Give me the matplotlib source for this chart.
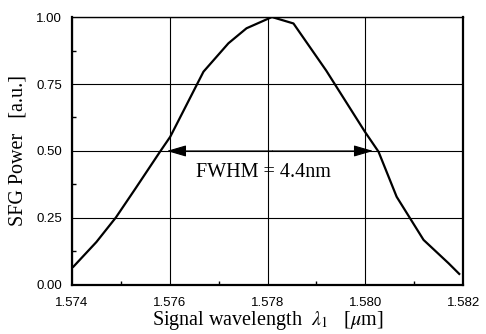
import numpy as np
import matplotlib.pyplot as plt
from matplotlib.ticker import MultipleLocator, FormatStrFormatter

plt.rcParams['mathtext.fontset'] = 'stix'

wavelength = [1.57403, 1.57450, 1.57490, 1.57530, 1.57580, 1.57601, 1.57669,
              1.57720, 1.57757, 1.57809, 1.57853, 1.57920, 1.57999, 1.58027,
              1.58064, 1.58119, 1.58170, 1.58192]
power = [0.068, 0.160, 0.252, 0.360, 0.497, 0.553, 0.796,
         0.902, 0.958, 1.0, 0.976, 0.80, 0.572, 0.497,
         0.329, 0.168, 0.081, 0.041]

# FWHM arrow ends
fwhm_left = 1.57594
fwhm_right = 1.58016
fwhm_text = "FWHM = 4.4nm"

xticks = [1.574, 1.576, 1.578, 1.580, 1.582]
yticks = [0.00, 0.25, 0.50, 0.75, 1.00]

fig = plt.figure(figsize=(4.86, 3.34), dpi=100)
ax = fig.add_axes([0.148, 0.147, 0.805, 0.802])

ax.plot(wavelength, power, color='black', linewidth=1.6, zorder=3)

ax.set_xlim(1.574, 1.582)
ax.set_ylim(0, 1.0)
ax.set_xticks(xticks)
ax.set_yticks(yticks)
ax.xaxis.set_major_formatter(FormatStrFormatter('%.3f'))
ax.yaxis.set_major_formatter(FormatStrFormatter('%.2f'))
ax.xaxis.set_minor_locator(MultipleLocator(0.001))
ax.yaxis.set_minor_locator(MultipleLocator(0.125))
ax.tick_params(which='major', length=0, labelsize=9.5)
ax.tick_params(axis='x', which='major', pad=9)
ax.tick_params(axis='y', which='major', pad=7)
ax.tick_params(which='minor', direction='in', length=3, width=1)
for lab in ax.get_xticklabels() + ax.get_yticklabels():
    lab.set_family('Liberation Sans')

ax.grid(True, which='major', color='black', linewidth=0.8)
for s in ['left', 'bottom', 'right']:
    ax.spines[s].set_linewidth(1.6)
ax.spines['top'].set_linewidth(1.0)

# FWHM arrows
for tip in (fwhm_left, fwhm_right):
    ax.annotate('', xy=(tip, 0.5), xytext=(1.5781, 0.5),
                arrowprops=dict(arrowstyle='-|>,head_length=1.2,head_width=0.35',
                                color='black', lw=0.8, shrinkA=0, shrinkB=0), zorder=4)
ax.text(1.57791, 0.42, fwhm_text, ha='center', va='center',
        fontsize=14.5, family='Liberation Serif')

ax.set_xlabel(r'Signal wavelength  $\lambda_1$   [$\mu$m]', family='Liberation Serif',
              fontsize=14.5, labelpad=0)
ax.set_ylabel('SFG Power   [a.u.]', family='Liberation Serif', fontsize=14.5, labelpad=6)

fig.savefig('out.png', dpi=100)
